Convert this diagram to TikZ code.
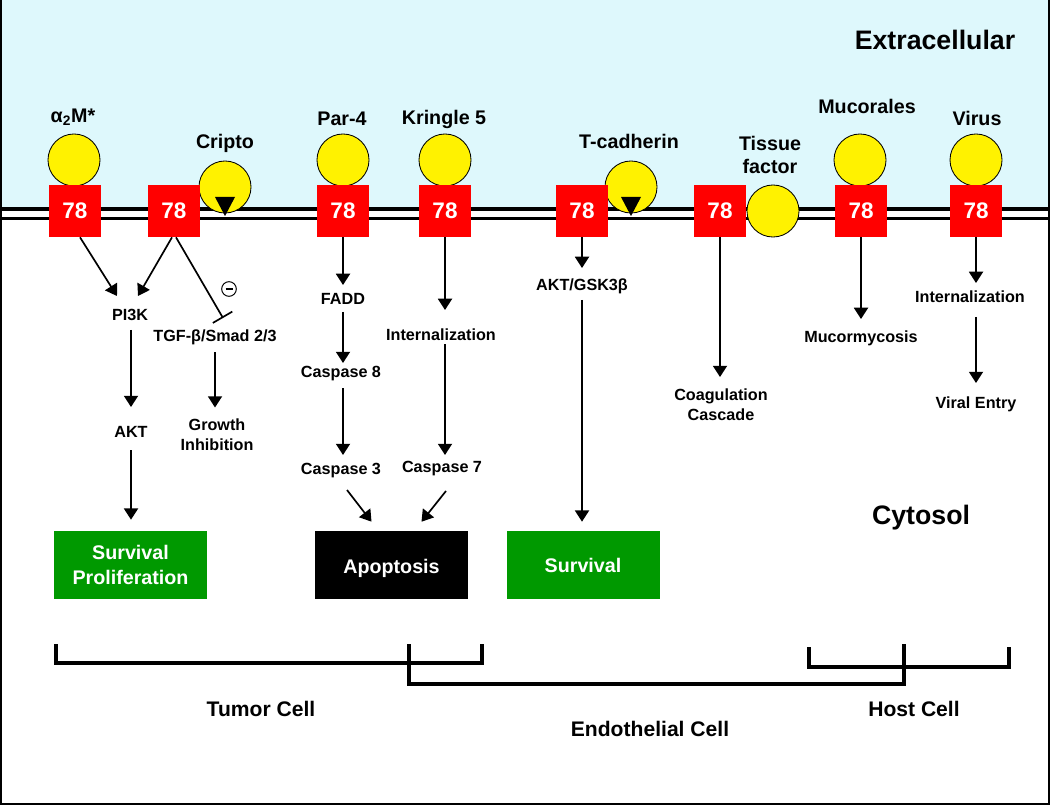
\documentclass[tikz,border=0pt]{standalone}
\usepackage{fontspec}
\setmainfont{Liberation Sans}
\usetikzlibrary{arrows.meta,calc}
\definecolor{cyanbg}{RGB}{222,248,252}
\definecolor{boxgreen}{RGB}{0,153,0}
\begin{document}
\begin{tikzpicture}[x=0.025cm,y=-0.025cm,
  rbox/.style={fill=red, minimum width=36.3pt, minimum height=37pt, inner sep=0pt, text=white, font=\fontsize{16}{18}\selectfont\bfseries},
  lig/.style={circle, fill=yellow, draw=black, line width=0.6pt, minimum size=37pt, inner sep=0pt},
  toplab/.style={font=\fontsize{14}{17}\selectfont\bfseries, inner sep=0pt, align=center},
  lab/.style={font=\fontsize{11.5}{14}\selectfont\bfseries, inner sep=0pt, text height=8.5pt, text depth=2.5pt},
  labm/.style={font=\fontsize{11.5}{14}\selectfont\bfseries, inner sep=0pt, align=center},
  obox/.style={minimum width=108.8pt, minimum height=48.4pt, inner sep=0pt, text=white, align=center, font=\fontsize{14}{17.8}\selectfont\bfseries},
  arr/.style={line width=1.2pt, -{Triangle[width=10pt,length=8pt]}},
  inh/.style={line width=1.2pt, -{Bar[width=16pt]}},
  brk/.style={line width=2.2pt},
  cellname/.style={font=\fontsize{15}{18}\selectfont\bfseries, inner sep=0pt},
  region/.style={font=\fontsize{19}{22}\selectfont\bfseries, inner sep=0pt}]
\useasboundingbox (0,0) rectangle (1050,806);
% background
\fill[cyanbg] (0,0) rectangle (1050,209);
\draw[line width=1.4pt] (1,0) -- (1,804) -- (1049,804) -- (1049,0);
% membrane
\draw[line width=2.5pt] (0,209) -- (1050,209);
\draw[line width=2.1pt] (0,218.5) -- (1050,218.5);
% region labels
\node[region] (extra) at (935,40) {Extracellular};
\node[region] (cyto) at (921,518) {Cytosol};
% ligands
\node[lig] (l1) at (74,160) {};
\node[lig] (cr) at (225,187) {};
\node[lig] (l3) at (343,160) {};
\node[lig] (l4) at (445,160) {};
\node[lig] (tc) at (631,187) {};
\node[lig] (tf) at (773,211) {};
\node[lig] (l7) at (860,160) {};
\node[lig] (l8) at (976,160) {};
\fill ($(cr)+(-10,10)$) -- ($(cr)+(10,10)$) -- ($(cr)+(0,29)$) -- cycle;
\fill ($(tc)+(-10,10)$) -- ($(tc)+(10,10)$) -- ($(tc)+(0,29)$) -- cycle;
% ligand labels
\node[toplab] (t1) at (73,117) {α\textsubscript{2}M*};
\node[toplab] (t2) at (225,143) {Cripto};
\node[toplab] (t3) at (342,119) {Par-4};
\node[toplab] (t4) at (444,119) {Kringle 5};
\node[toplab] (t5) at (629,141) {T-cadherin};
\node[toplab] (t6) at (770,155) {Tissue\\factor};
\node[toplab] (t7) at (867,106) {Mucorales};
\node[toplab] (t8) at (977,118) {Virus};
% GRP78 boxes
\node[rbox] (b1) at (75,211) {78};
\node[rbox] (b2) at (174,211) {78};
\node[rbox] (b3) at (343,211) {78};
\node[rbox] (b4) at (445,211) {78};
\node[rbox] (b5) at (582,211) {78};
\node[rbox] (b6) at (720,211) {78};
\node[rbox] (b7) at (861,211) {78};
\node[rbox] (b8) at (976,211) {78};
% intermediate labels
\node[lab] (pi3k) at (130,316) {PI3K};
\node[lab] (tgf) at (215,337) {TGF-β/Smad 2/3};
\node[lab] (akt) at (131,433) {AKT};
\node[labm] (growth) at (217,434.5) {Growth\\Inhibition};
\node[lab] (fadd) at (343,300) {FADD};
\node[lab] (casp8) at (341,373) {Caspase 8};
\node[lab] (casp3) at (341,470) {Caspase 3};
\node[lab] (inter1) at (441,336) {Internalization};
\node[lab] (casp7) at (442,468) {Caspase 7};
\node[lab] (akg) at (582,286) {AKT/GSK3β};
\node[labm] (coag) at (721,405) {Coagulation\\Cascade};
\node[lab] (mucm) at (861,338) {Mucormycosis};
\node[lab] (inter2) at (970,298) {Internalization};
\node[lab] (ventry) at (976,404) {Viral Entry};
% outcome boxes
\node[obox, fill=boxgreen] (sp) at (130.5,565) {Survival\\Proliferation};
\node[obox, fill=black, text height=12.5pt, text depth=1pt] (apop) at (391.5,565) {Apoptosis};
\node[obox, fill=boxgreen] (surv) at (583,565) {Survival};
% inhibition sign
\node[circle, draw, line width=0.7pt, minimum size=10.4pt, inner sep=0pt] (minus) at (229,289) {};
\draw[line width=0.8pt] ($(minus)+(-3.5,0)$) -- ($(minus)+(3.5,0)$);
% connectors
\draw[arr] ($(b1.south)+(5,0)$) -- ($(pi3k)+(-13,-20)$);
\draw[arr] ($(b2.south)+(-2,0)$) -- ($(pi3k)+(8,-20)$);
\draw[inh] ($(b2.south)+(2,0)$) -- ($(tgf)+(8,-19)$);
\draw[arr] ($(pi3k)+(1,14)$) -- ($(akt)+(0,-26)$);
\draw[arr] ($(akt)+(0,17)$) -- ($(akt |- sp.north)+(0,-11)$);
\draw[arr] ($(tgf)+(0,15)$) -- ($(tgf |- growth)+(0,-27)$);
\draw[arr] (b3.south) -- ($(b3.south |- fadd)+(0,-15)$);
\draw[arr] ($(b3.south |- fadd)+(0,12)$) -- ($(b3.south |- casp8)+(0,-10)$);
\draw[arr] ($(b3.south |- casp8)+(0,15)$) -- ($(b3.south |- casp3)+(0,-15)$);
\draw[arr] ($(casp3)+(6,20)$) -- ($(apop.north)+(-20,-9)$);
\draw[arr] (b4.south) -- ($(b4.south |- inter1)+(0,-26)$);
\draw[arr] ($(b4.south |- inter1)+(0,8)$) -- ($(b4.south |- casp7)+(0,-13)$);
\draw[arr] ($(casp7)+(4,23)$) -- ($(apop.north)+(30,-9)$);
\draw[arr] (b5.south) -- ($(akg)+(0,-18)$);
\draw[arr] ($(akg)+(0,14)$) -- ($(akg |- surv.north)+(0,-9)$);
\draw[arr] (b6.south) -- ($(b6.south |- coag)+(0,-28)$);
\draw[arr] (b7.south) -- ($(mucm)+(0,-19)$);
\draw[arr] (b8.south) -- ($(b8.south |- inter2)+(0,-15)$);
\draw[arr] ($(b8.south |- inter2)+(0,19)$) -- ($(b8.south |- ventry)+(0,-21)$);
% brackets
\draw[brk] (56,644) -- (56,663) -- (482,663) -- (482,644);
\draw[brk] (409,644) -- (409,684) -- (904,684) -- (904,644);
\draw[brk] (809,647) -- (809,667) -- (1009,667) -- (1009,647);
\node[cellname] (tumor) at (261,709) {Tumor Cell};
\node[cellname] (host) at (914,709) {Host Cell};
\node[cellname] (endo) at (650,729) {Endothelial Cell};
\end{tikzpicture}
\end{document}
